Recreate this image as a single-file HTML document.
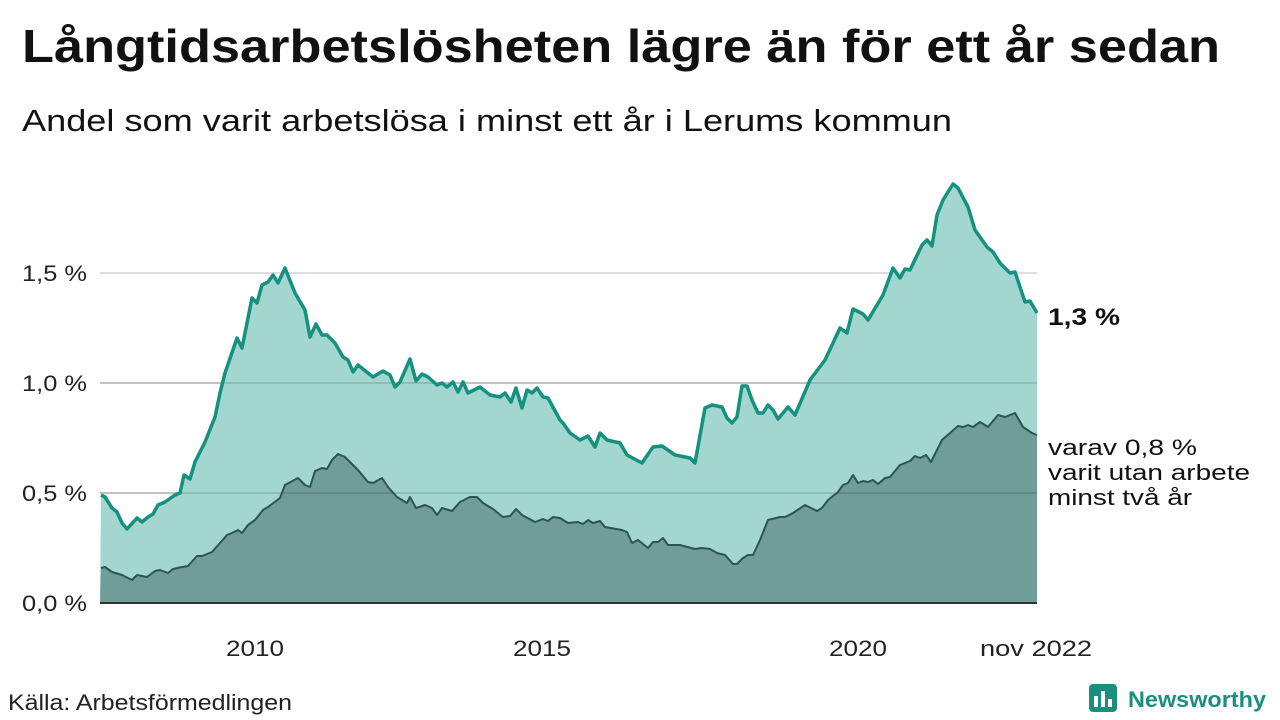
<!DOCTYPE html>
<html><head><meta charset="utf-8"><style>
body{margin:0;width:1280px;height:720px;background:#fff;overflow:hidden;font-family:"Liberation Sans",sans-serif;color:#111}
</style></head><body>
<svg width="1280" height="720" xmlns="http://www.w3.org/2000/svg" style="position:absolute;left:0;top:0">
<text x="22" y="62" font-size="46" font-weight="bold" font-family="Liberation Sans,sans-serif" fill="#111" textLength="1198" lengthAdjust="spacingAndGlyphs">Långtidsarbetslösheten lägre än för ett år sedan</text>
<text x="22" y="131" font-size="31" font-family="Liberation Sans,sans-serif" fill="#111" textLength="930" lengthAdjust="spacingAndGlyphs">Andel som varit arbetslösa i minst ett år i Lerums kommun</text>
<g stroke="#dddddd" stroke-width="2">
<line x1="100" y1="273" x2="1037" y2="273"/><line x1="100" y1="383" x2="1037" y2="383"/><line x1="100" y1="493" x2="1037" y2="493"/>
</g>
<polygon fill="#a3d6cf" points="100,603 101,495 105,497 112,508 117,512 122,523 127,529 137,518 142,522 148,517 153,514 158,505 165,502 175,495 180,493 184,475 190,479 195,462 205,442 215,417 220,393 225,373 237,338 242,348 252,298 257,303 262,285 268,282 273,275 278,283 285,268 295,293 305,310 310,337 316,324 322,335 327,335 335,343 343,357 348,360 353,372 358,365 373,377 383,371 390,375 395,387 400,382 410,359 416,381 422,374 428,377 437,385 442,383 447,387 453,382 458,392 463,382 468,393 480,387 490,395 500,397 505,393 511,402 516,388 522,408 527,390 532,393 537,388 543,397 548,398 560,420 563,423 570,433 580,440 588,436 595,447 600,433 607,440 620,443 627,455 642,463 653,447 662,446 675,455 690,458 695,463 705,408 712,405 722,407 727,418 732,423 737,417 742,386 747,386 752,400 758,413 763,413 768,405 773,410 778,419 788,407 795,415 810,380 825,360 840,328 847,333 853,309 863,314 868,320 883,295 893,268 900,278 905,269 910,270 922,245 927,240 932,246 937,215 943,200 953,184 958,188 968,207 975,230 987,247 993,252 1000,263 1010,273 1015,272 1025,302 1030,301 1037,313 1037,603"/>
<polygon fill="#6f9d97" points="100,603 101,568 105,567 112,572 122,575 132,580 137,575 147,577 155,571 160,570 168,573 173,569 182,567 188,566 197,556 202,556 212,552 227,535 232,533 238,530 242,533 248,525 255,520 263,510 268,507 280,498 285,485 298,478 305,485 310,487 315,471 322,468 327,469 332,460 338,454 345,457 358,470 368,482 373,483 382,478 388,487 397,497 407,503 410,497 416,508 425,505 432,508 437,515 442,508 452,511 460,502 470,497 477,497 483,503 493,509 503,517 510,516 516,509 522,515 535,522 543,519 548,521 553,517 560,518 568,523 578,522 583,524 588,520 593,523 600,521 605,527 622,530 627,532 632,543 638,540 648,548 653,542 658,542 663,538 668,545 680,545 695,549 702,548 710,549 717,553 725,555 733,564 737,564 743,558 748,555 753,555 760,540 768,520 780,517 785,517 793,513 805,505 817,511 822,508 828,500 838,492 843,485 848,483 853,475 858,483 863,481 868,482 873,480 878,484 885,478 890,477 900,465 910,461 915,456 920,458 926,455 931,462 942,440 950,433 958,426 963,427 968,425 973,427 980,422 988,427 998,415 1005,417 1015,413 1023,427 1032,433 1037,435 1037,603"/>
<g stroke="rgba(0,0,0,0.12)" stroke-width="2"><line x1="100" y1="383" x2="1037" y2="383"/><line x1="100" y1="493" x2="1037" y2="493"/></g>
<polyline fill="none" stroke="#2d5450" stroke-width="2" stroke-linejoin="round" points="101,568 105,567 112,572 122,575 132,580 137,575 147,577 155,571 160,570 168,573 173,569 182,567 188,566 197,556 202,556 212,552 227,535 232,533 238,530 242,533 248,525 255,520 263,510 268,507 280,498 285,485 298,478 305,485 310,487 315,471 322,468 327,469 332,460 338,454 345,457 358,470 368,482 373,483 382,478 388,487 397,497 407,503 410,497 416,508 425,505 432,508 437,515 442,508 452,511 460,502 470,497 477,497 483,503 493,509 503,517 510,516 516,509 522,515 535,522 543,519 548,521 553,517 560,518 568,523 578,522 583,524 588,520 593,523 600,521 605,527 622,530 627,532 632,543 638,540 648,548 653,542 658,542 663,538 668,545 680,545 695,549 702,548 710,549 717,553 725,555 733,564 737,564 743,558 748,555 753,555 760,540 768,520 780,517 785,517 793,513 805,505 817,511 822,508 828,500 838,492 843,485 848,483 853,475 858,483 863,481 868,482 873,480 878,484 885,478 890,477 900,465 910,461 915,456 920,458 926,455 931,462 942,440 950,433 958,426 963,427 968,425 973,427 980,422 988,427 998,415 1005,417 1015,413 1023,427 1032,433 1037,435"/>
<polyline fill="none" stroke="#14917f" stroke-width="3.5" stroke-linejoin="round" points="101,495 105,497 112,508 117,512 122,523 127,529 137,518 142,522 148,517 153,514 158,505 165,502 175,495 180,493 184,475 190,479 195,462 205,442 215,417 220,393 225,373 237,338 242,348 252,298 257,303 262,285 268,282 273,275 278,283 285,268 295,293 305,310 310,337 316,324 322,335 327,335 335,343 343,357 348,360 353,372 358,365 373,377 383,371 390,375 395,387 400,382 410,359 416,381 422,374 428,377 437,385 442,383 447,387 453,382 458,392 463,382 468,393 480,387 490,395 500,397 505,393 511,402 516,388 522,408 527,390 532,393 537,388 543,397 548,398 560,420 563,423 570,433 580,440 588,436 595,447 600,433 607,440 620,443 627,455 642,463 653,447 662,446 675,455 690,458 695,463 705,408 712,405 722,407 727,418 732,423 737,417 742,386 747,386 752,400 758,413 763,413 768,405 773,410 778,419 788,407 795,415 810,380 825,360 840,328 847,333 853,309 863,314 868,320 883,295 893,268 900,278 905,269 910,270 922,245 927,240 932,246 937,215 943,200 953,184 958,188 968,207 975,230 987,247 993,252 1000,263 1010,273 1015,272 1025,302 1030,301 1037,313"/>
<line x1="100" y1="603" x2="1037" y2="603" stroke="#333" stroke-width="2"/>
<g font-size="22" font-family="Liberation Sans,sans-serif" fill="#222">
<text x="22" y="281" textLength="65" lengthAdjust="spacingAndGlyphs">1,5 %</text><text x="22" y="391" textLength="65" lengthAdjust="spacingAndGlyphs">1,0 %</text><text x="22" y="501" textLength="65" lengthAdjust="spacingAndGlyphs">0,5 %</text><text x="22" y="611" textLength="65" lengthAdjust="spacingAndGlyphs">0,0 %</text>
</g>
<g font-size="22" font-family="Liberation Sans,sans-serif" fill="#222">
<text x="226" y="656" textLength="58" lengthAdjust="spacingAndGlyphs">2010</text><text x="513" y="656" textLength="58" lengthAdjust="spacingAndGlyphs">2015</text><text x="829" y="656" textLength="58" lengthAdjust="spacingAndGlyphs">2020</text><text x="980" y="656" textLength="112" lengthAdjust="spacingAndGlyphs">nov 2022</text>
</g>
<text x="1048" y="325" font-size="24" font-weight="bold" font-family="Liberation Sans,sans-serif" fill="#111" textLength="72" lengthAdjust="spacingAndGlyphs">1,3 %</text>
<g font-size="22" font-family="Liberation Sans,sans-serif" fill="#111">
<text x="1048" y="455" textLength="149" lengthAdjust="spacingAndGlyphs">varav 0,8 %</text><text x="1048" y="480" textLength="202" lengthAdjust="spacingAndGlyphs">varit utan arbete</text><text x="1048" y="505" textLength="144" lengthAdjust="spacingAndGlyphs">minst två år</text>
</g>
<text x="8" y="710" font-size="22" font-family="Liberation Sans,sans-serif" fill="#222" textLength="284" lengthAdjust="spacingAndGlyphs">Källa: Arbetsförmedlingen</text>
<g>
<rect x="1089" y="684" width="28" height="28" rx="4" fill="#1a8f7e"/>
<rect x="1094" y="696" width="4" height="11" fill="#fff"/><rect x="1101" y="691" width="4" height="16" fill="#fff"/><rect x="1108" y="699" width="4" height="8" fill="#fff"/>
<text x="1128" y="707" font-size="22" font-weight="bold" font-family="Liberation Sans,sans-serif" fill="#1a8f7e" textLength="138" lengthAdjust="spacingAndGlyphs">Newsworthy</text>
</g>
</svg>
</body></html>
